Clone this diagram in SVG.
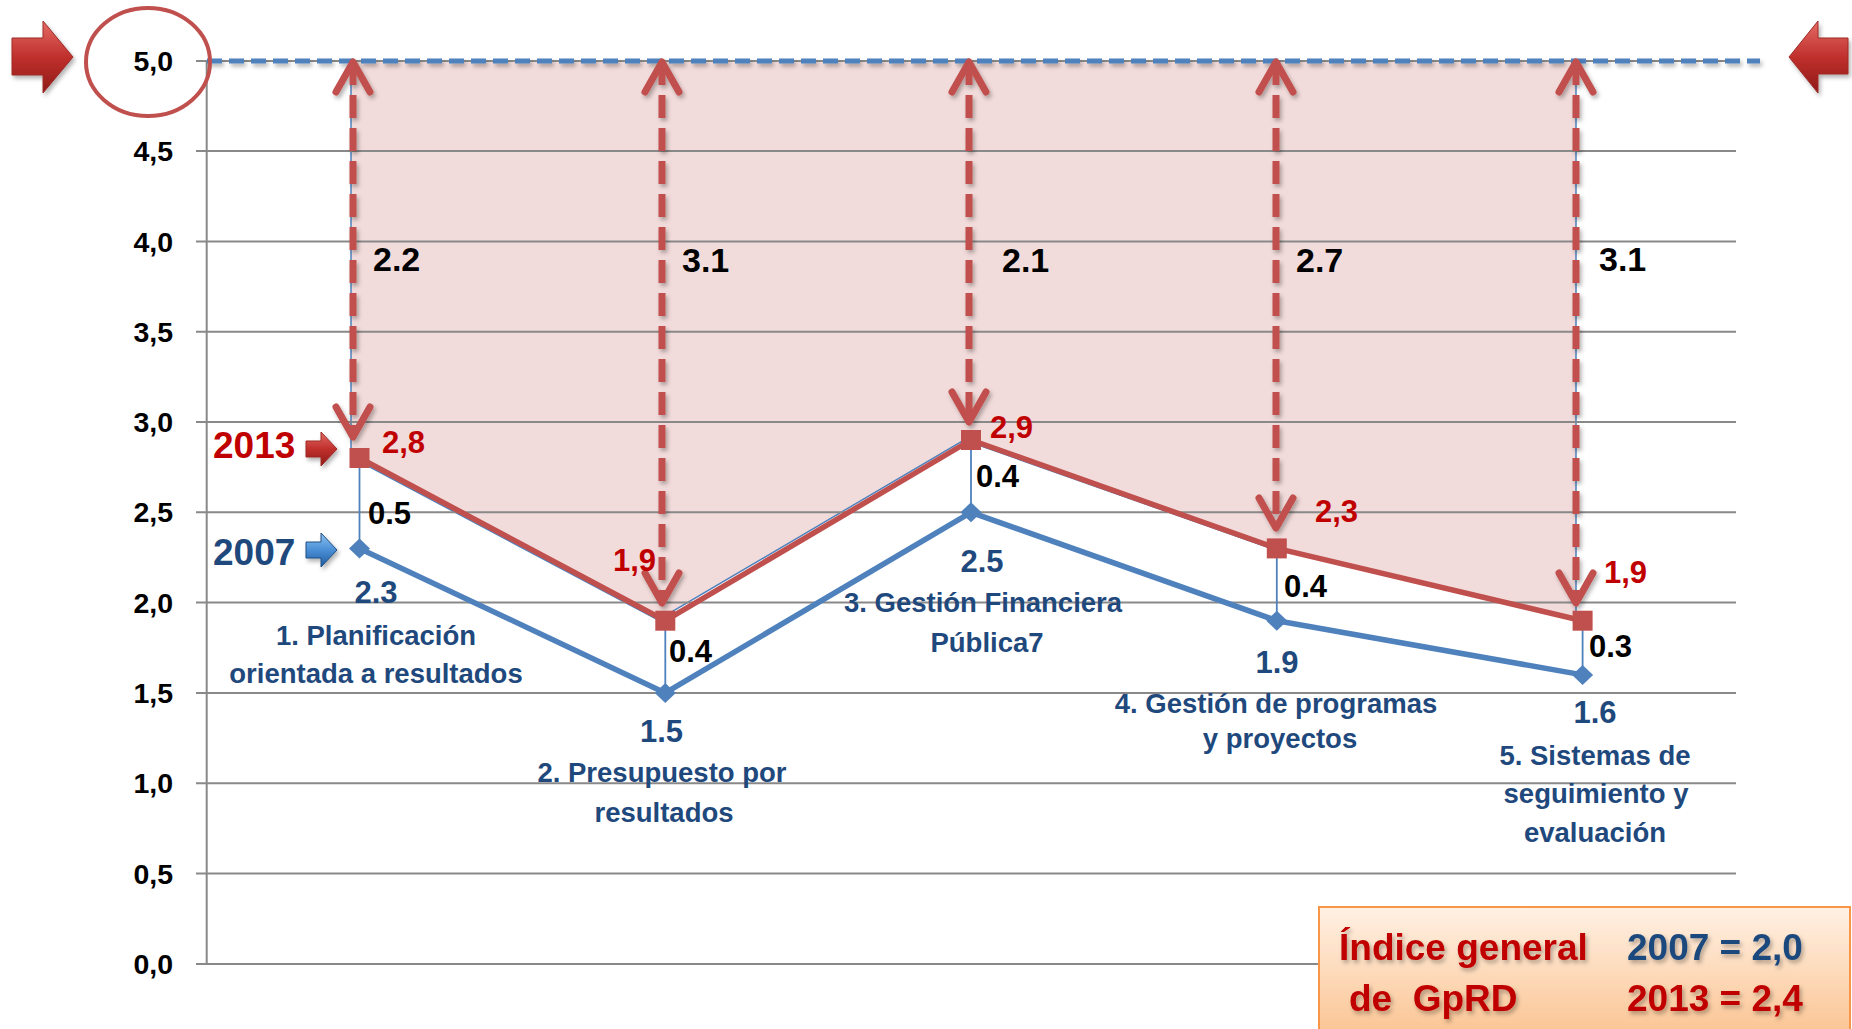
<svg xmlns="http://www.w3.org/2000/svg" width="1852" height="1029" viewBox="0 0 1852 1029">
<defs>
<style>
text{font-family:"Liberation Sans",Arial,sans-serif;font-weight:bold}
.ax{font-size:28.5px;fill:#000;text-anchor:end}
.grid{stroke:#898989;stroke-width:2;fill:none}
.val{font-size:31px}
.red{fill:#c00000}
.blk{fill:#000}
.blu{fill:#1f497d}
.cat{font-size:27.5px;fill:#1f497d;text-anchor:middle}
.dif{font-size:34px;fill:#000}
.yr{font-size:37px}
.leg{font-size:37px}
.darr{stroke:#c0504d;stroke-width:7;stroke-dasharray:23 10;fill:none;marker-start:url(#vhead);marker-end:url(#vhead)}
.hl{stroke:#4f81bd;stroke-width:1.8}
</style>
<marker id="vhead" markerUnits="userSpaceOnUse" orient="auto-start-reverse" refX="0" refY="0" markerWidth="40" markerHeight="40" overflow="visible">
<path d="M-30,-17 L0,0 L-30,17" fill="none" stroke="#c0504d" stroke-width="7" stroke-linecap="round" stroke-linejoin="round"/>
</marker>
<filter id="sh" x="-20%" y="-20%" width="140%" height="140%">
<feDropShadow dx="2" dy="3" stdDeviation="2" flood-color="#000" flood-opacity="0.3"/>
</filter>
<filter id="shU" filterUnits="userSpaceOnUse" x="0" y="0" width="1852" height="1029">
<feDropShadow dx="2" dy="3" stdDeviation="2" flood-color="#000" flood-opacity="0.3"/>
</filter>
<linearGradient id="gRed" x1="0" y1="0" x2="0" y2="1">
<stop offset="0" stop-color="#e46b66"/>
<stop offset="0.5" stop-color="#c0302c"/>
<stop offset="1" stop-color="#8e1a18"/>
</linearGradient>
<linearGradient id="gBlue" x1="0" y1="0" x2="0" y2="1">
<stop offset="0" stop-color="#8ec4f0"/>
<stop offset="0.5" stop-color="#4a8fd6"/>
<stop offset="1" stop-color="#1f5a9e"/>
</linearGradient>
<linearGradient id="gLeg" x1="0" y1="0" x2="0" y2="1">
<stop offset="0" stop-color="#fff1e4"/>
<stop offset="1" stop-color="#fbc594"/>
</linearGradient>
</defs>

<rect width="1852" height="1029" fill="#fff"/>

<g id="area">
<polygon points="351,61 1576,61 1576,620 1270,548 964,440 658,620 351,457" fill="#f2dcdb" stroke="#4f81bd" stroke-width="1.5"/>
</g>

<g id="grid">
<line class="grid" x1="196" y1="61" x2="1736" y2="61"/>
<line class="grid" x1="196" y1="151" x2="1736" y2="151"/>
<line class="grid" x1="196" y1="241.5" x2="1736" y2="241.5"/>
<line class="grid" x1="196" y1="331.7" x2="1736" y2="331.7"/>
<line class="grid" x1="196" y1="422" x2="1736" y2="422"/>
<line class="grid" x1="196" y1="512.3" x2="1736" y2="512.3"/>
<line class="grid" x1="196" y1="602.6" x2="1736" y2="602.6"/>
<line class="grid" x1="196" y1="692.9" x2="1736" y2="692.9"/>
<line class="grid" x1="196" y1="783.3" x2="1736" y2="783.3"/>
<line class="grid" x1="196" y1="873.6" x2="1736" y2="873.6"/>
<line class="grid" x1="196" y1="964" x2="1736" y2="964"/>
<line class="grid" x1="206.7" y1="61" x2="206.7" y2="964"/>
</g>

<g id="axis-labels">
<text class="ax" x="173" y="71">5,0</text>
<text class="ax" x="173" y="161">4,5</text>
<text class="ax" x="173" y="251.5">4,0</text>
<text class="ax" x="173" y="341.7">3,5</text>
<text class="ax" x="173" y="432">3,0</text>
<text class="ax" x="173" y="522.3">2,5</text>
<text class="ax" x="173" y="612.6">2,0</text>
<text class="ax" x="173" y="702.9">1,5</text>
<text class="ax" x="173" y="793.3">1,0</text>
<text class="ax" x="173" y="883.6">0,5</text>
<text class="ax" x="173" y="974">0,0</text>
</g>

<g id="target-line">
<line x1="207" y1="61" x2="1760" y2="61" stroke="#4f81bd" stroke-width="5" stroke-dasharray="15 7" filter="url(#shU)"/>
<ellipse cx="148" cy="62" rx="62" ry="54" fill="none" stroke="#c0504d" stroke-width="4"/>
<polygon points="12,38 43,38 43,21 73,57 43,93 43,75 12,75" fill="url(#gRed)" stroke="#9c2a27" stroke-width="1" filter="url(#sh)"/>
<polygon points="1848,38 1818,38 1818,21 1789,57 1818,93 1818,74 1848,74" fill="url(#gRed)" stroke="#9c2a27" stroke-width="1" filter="url(#sh)"/>
</g>

<g id="connectors">
<line class="hl" x1="359.5" y1="458" x2="359.5" y2="548.4"/>
<line class="hl" x1="665.3" y1="620.7" x2="665.3" y2="692.9"/>
<line class="hl" x1="971" y1="440" x2="971" y2="512.3"/>
<line class="hl" x1="1276.8" y1="548.4" x2="1276.8" y2="620.7"/>
<line class="hl" x1="1582.6" y1="620.7" x2="1582.6" y2="674.9"/>
<polyline points="359.5,548.4 665.3,692.9 971,512.3 1276.8,620.7 1582.6,674.9" fill="none" stroke="#4f81bd" stroke-width="5.5" stroke-linejoin="round"/>
<polyline points="359.5,458 665.3,620.7 971,440 1276.8,548.4 1582.6,620.7" fill="none" stroke="#c0504d" stroke-width="5.5" stroke-linejoin="round"/>
<g filter="url(#shU)">
<line class="darr" x1="353" y1="62" x2="353" y2="437"/>
<line class="darr" x1="662" y1="62" x2="662" y2="603"/>
<line class="darr" x1="969" y1="62" x2="969" y2="422"/>
<line class="darr" x1="1276" y1="62" x2="1276" y2="528"/>
<line class="darr" x1="1576" y1="62" x2="1576" y2="603"/>
</g>
</g>

<g id="markers">
<rect x="349.5" y="448" width="20" height="20" fill="#c0504d"/>
<rect x="655.3" y="610.7" width="20" height="20" fill="#c0504d"/>
<rect x="961" y="430" width="20" height="20" fill="#c0504d"/>
<rect x="1266.8" y="538.4" width="20" height="20" fill="#c0504d"/>
<rect x="1572.6" y="610.7" width="20" height="20" fill="#c0504d"/>
<polygon points="359.5,538.4 370,548.4 359.5,558.4 349,548.4" fill="#4f81bd"/>
<polygon points="665.3,682.9 675.8,692.9 665.3,702.9 654.8,692.9" fill="#4f81bd"/>
<polygon points="971,502.3 981.5,512.3 971,522.3 960.5,512.3" fill="#4f81bd"/>
<polygon points="1276.8,610.7 1287.3,620.7 1276.8,630.7 1266.3,620.7" fill="#4f81bd"/>
<polygon points="1582.6,664.9 1593.1,674.9 1582.6,684.9 1572.1,674.9" fill="#4f81bd"/>
</g>

<g id="gap-labels">
<text class="dif" x="373" y="271">2.2</text>
<text class="dif" x="682" y="272">3.1</text>
<text class="dif" x="1002" y="272">2.1</text>
<text class="dif" x="1296" y="272">2.7</text>
<text class="dif" x="1599" y="271">3.1</text>
</g>

<g id="cat1">
<text class="val red" x="382" y="453">2,8</text>
<text class="val blk" x="368" y="524">0.5</text>
<text class="val blu" x="376" y="603" text-anchor="middle">2.3</text>
<text class="cat" x="376" y="645">1. Planificación</text>
<text class="cat" x="376" y="683">orientada a resultados</text>
</g>
<g id="cat2">
<text class="val red" x="613" y="571">1,9</text>
<text class="val blk" x="669" y="662">0.4</text>
<text class="val blu" x="661.5" y="742" text-anchor="middle">1.5</text>
<text class="cat" x="662" y="782">2. Presupuesto por</text>
<text class="cat" x="664" y="822">resultados</text>
</g>
<g id="cat3">
<text class="val red" x="990" y="438">2,9</text>
<text class="val blk" x="976" y="487">0.4</text>
<text class="val blu" x="982" y="572" text-anchor="middle">2.5</text>
<text class="cat" x="983" y="612">3. Gestión Financiera</text>
<text class="cat" x="987" y="652">Pública7</text>
</g>
<g id="cat4">
<text class="val red" x="1315" y="522">2,3</text>
<text class="val blk" x="1284" y="597">0.4</text>
<text class="val blu" x="1277" y="673" text-anchor="middle">1.9</text>
<text class="cat" x="1276" y="713">4. Gestión de programas</text>
<text class="cat" x="1280" y="748">y proyectos</text>
</g>
<g id="cat5">
<text class="val red" x="1604" y="583">1,9</text>
<text class="val blk" x="1589" y="657">0.3</text>
<text class="val blu" x="1595" y="723" text-anchor="middle">1.6</text>
<text class="cat" x="1595" y="765">5. Sistemas de</text>
<text class="cat" x="1596" y="803">seguimiento y</text>
<text class="cat" x="1595" y="842">evaluación</text>
</g>

<g id="year-2013">
<text class="yr red" x="213" y="458">2013</text>
<polygon points="306,441 321,441 321,432 337,449 321,466 321,457 306,457" fill="url(#gRed)" stroke="#9c2a27" stroke-width="1" filter="url(#sh)"/>
</g>
<g id="year-2007">
<text class="yr blu" x="213" y="565">2007</text>
<polygon points="306,542 321,542 321,533 337,550 321,567 321,558 306,558" fill="url(#gBlue)" stroke="#1f4e85" stroke-width="1" filter="url(#sh)"/>
</g>

<g id="legend">
<rect x="1319" y="907" width="531" height="126" fill="url(#gLeg)" stroke="#f79646" stroke-width="2"/>
<g filter="url(#sh)">
<text class="leg red" x="1339" y="960">Índice general</text>
<text class="leg red" x="1349" y="1011" xml:space="preserve">de  GpRD</text>
<text class="leg blu" x="1627" y="960">2007 = 2,0</text>
<text class="leg red" x="1627" y="1011">2013 = 2,4</text>
</g>
</g>
</svg>
